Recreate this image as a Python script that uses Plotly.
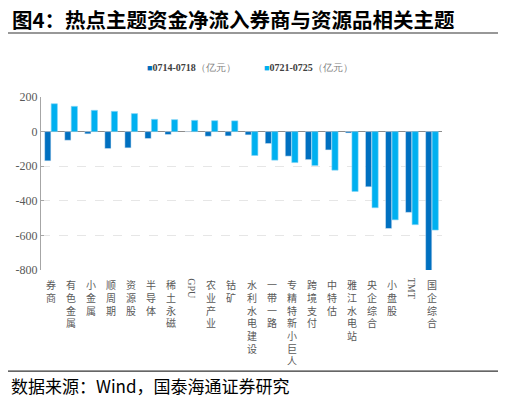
import plotly.graph_objects as go

# 主题资金净流入（亿元）
categories = ['券商', '有色金属', '小金属', '顺周期', '资源股', '半导体', '稀土永磁', 'GPU',
              '农业产业', '钴矿', '水利水电建设', '一带一路', '专精特新小巨人', '跨境支付',
              '中特估', '雅江水电站', '央企综合', '小盘股', 'TMT', '国企综合']
week1 = [-169, -50, -13, -98, -94, -40, -17, -1, -27, -25, -19, -69, -142, -162,
         -106, -8, -319, -560, -467, -808]
week2 = [161, 146, 123, 117, 104, 71, 69, 65, 63, 62, -138, -165, -179, -196,
         -223, -346, -440, -510, -538, -569]
yticks = [200, 0, -200, -400, -600, -800]
series_names = ['0714-0718', '0721-0725']
colors = ['#0070C0', '#00B0F0']

fig = go.Figure()
fig.add_trace(go.Bar(x=categories, y=week1, name=series_names[0],
                     marker=dict(color=colors[0])))
fig.add_trace(go.Bar(x=categories, y=week2, name=series_names[1],
                     marker=dict(color=colors[1], line=dict(color='#7fd4f5', width=0.6))))

# 竖排分类标签（逐字排列）
for c in categories:
    if c.isascii():
        fig.add_annotation(x=c, y=-0.035, xref='x', yref='paper', text=c, textangle=90,
                           showarrow=False, yanchor='top', xanchor='center',
                           font=dict(family='Liberation Serif', size=10, color='#595959'))
    else:
        for i, ch in enumerate(c):
            fig.add_annotation(x=c, y=-0.03, xref='x', yref='paper', text=ch, yshift=-12.7 * i,
                               showarrow=False, yanchor='top', xanchor='center',
                               font=dict(family='Noto Sans CJK SC', size=10, color='#595959'))

# 图例（手工绘制，小方块）
for name, col, lx in zip(series_names, colors, [0.26, 0.55]):
    fig.add_annotation(x=lx, y=1.168, xref='paper', yref='paper', xanchor='left', yanchor='middle',
                       showarrow=False,
                       text=f'<span style="color:{col};font-size:9px">■</span><b>{name}</b>'
                            '<span style="color:#7f7f7f">（亿元）</span>',
                       font=dict(family='Liberation Serif', size=10, color='#404040'))

# paper 坐标以绘图区为基准（页面 body 有 8px 边距）
fig.add_annotation(x=-0.077, y=1.448, xref='paper', yref='paper', xanchor='left', yanchor='middle',
                   showarrow=False, text='<b>图4：热点主题资金净流入券商与资源品相关主题</b>',
                   font=dict(family='Noto Sans CJK SC', size=20.5, color='#000000'))
fig.add_annotation(x=-0.08, y=-0.665, xref='paper', yref='paper', xanchor='left', yanchor='middle',
                   showarrow=False, text='数据来源：Wind，国泰海通证券研究',
                   font=dict(family='Noto Sans CJK SC', size=17, color='#000000'))

fig.add_shape(type='line', xref='paper', yref='paper', x0=-0.09, x1=1.147, y0=1.37, y1=1.37,
              line=dict(color='#333333', width=1.2))
fig.add_shape(type='line', xref='paper', yref='paper', x0=-0.09, x1=1.147, y0=-0.584, y1=-0.584,
              line=dict(color='#333333', width=1.2))

fig.update_layout(
    width=498, height=393,
    margin=dict(l=33, r=64, t=89, b=131, autoexpand=False),
    plot_bgcolor='white', paper_bgcolor='white',
    barmode='group', bargap=0.35, bargroupgap=0.05,
    showlegend=False,
    font=dict(family='Liberation Serif', color='#595959'),
)
fig.update_xaxes(showticklabels=False, showline=False, showgrid=False, zeroline=False)
fig.update_yaxes(range=[-800, 200], tickvals=yticks, ticktext=[str(v) for v in yticks],
                 showline=True, linecolor='#a6a6a6', linewidth=1,
                 ticks='inside', ticklen=3, tickcolor='#a6a6a6',
                 showgrid=True, gridcolor='#e6e6e6', griddash='dash', gridwidth=1,
                 zeroline=True, zerolinecolor='#8c8c8c', zerolinewidth=1.2,
                 tickfont=dict(family='Liberation Serif', size=12, color='#595959'))

fig.write_html('out.html')
